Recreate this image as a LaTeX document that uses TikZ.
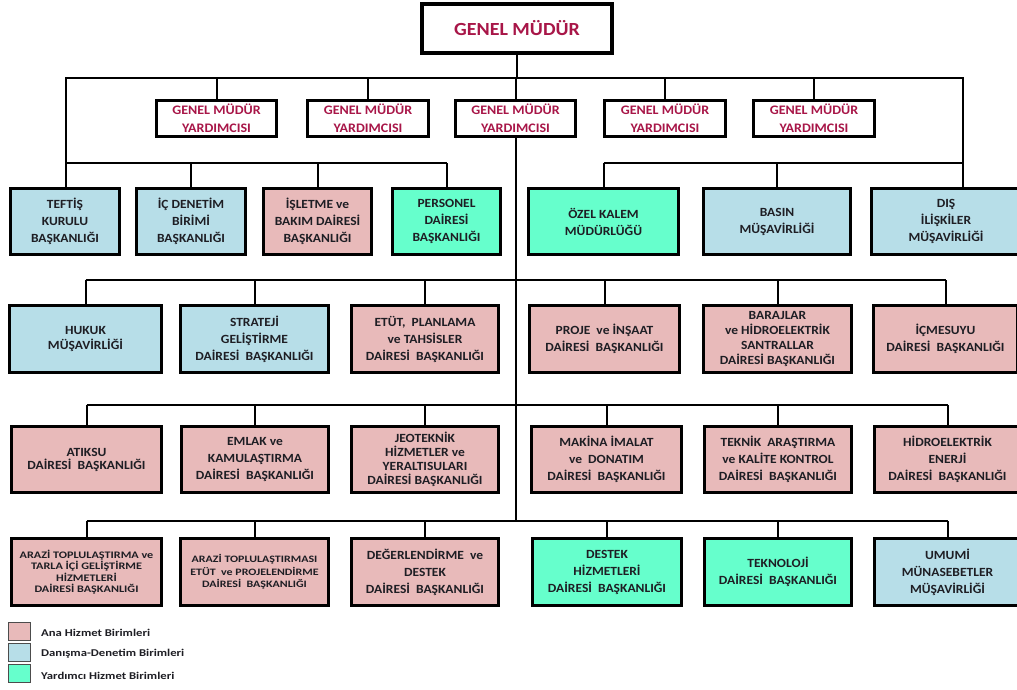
\documentclass[tikz,border=0pt]{standalone}
\usepackage{fontspec}
\setmainfont{Carlito}[FakeStretch=1.08]
\newfontfamily\widefont{Carlito}[FakeStretch=1.22]
\definecolor{anapink}{RGB}{232,186,186}
\definecolor{danblue}{RGB}{183,222,232}
\definecolor{yargreen}{RGB}{102,255,204}
\definecolor{gmred}{RGB}{168,22,72}
\definecolor{boxtext}{RGB}{30,30,36}
\begin{document}
\begin{tikzpicture}[x=1pt,y=-1pt,
  unit/.style={draw=black, line width=3pt, inner sep=0pt, align=center,
    text=boxtext, font=\bfseries\fontsize{12.5}{17}\selectfont},
  ana/.style={unit, fill=anapink},
  dan/.style={unit, fill=danblue},
  yar/.style={unit, fill=yargreen},
  lsp/.style={font=\bfseries\fontsize{12.5}{#1}\selectfont},
  wide/.style={font=\widefont\bfseries\fontsize{#1}{11.5}\selectfont},
  gmybox/.style={draw=black, line width=3pt, fill=white, inner sep=0pt, align=center,
    text=gmred, font=\bfseries\fontsize{13}{18}\selectfont,
    minimum height=36pt},
  conn/.style={draw=black, line width=2pt},
  legsq/.style={draw=black!70, line width=1pt, minimum width=22pt, minimum height=18pt, inner sep=0pt},
  legtext/.style={anchor=west, inner sep=0pt, text=boxtext, font=\widefont\bfseries\fontsize{10.4}{12}\selectfont}
]
\useasboundingbox (0,0) rectangle (1017,689);
\fill[white] (0,0) rectangle (1017,689);

% top
\node[draw=black, line width=4pt, fill=white, minimum width=190pt, minimum height=49pt,
  text=gmred, font=\bfseries\fontsize{18.5}{22}\selectfont] (gm) at (517,28.5) {GENEL MÜDÜR};

\node[gmybox, minimum width=120pt] (g1) at (216.5,118.5) {GENEL MÜDÜR\\YARDIMCISI};
\node[gmybox, minimum width=121pt] (g2) at (368,118.5) {GENEL MÜDÜR\\YARDIMCISI};
\node[gmybox, minimum width=120pt] (g3) at (515.5,118.5) {GENEL MÜDÜR\\YARDIMCISI};
\node[gmybox, minimum width=121pt] (g4) at (665,118.5) {GENEL MÜDÜR\\YARDIMCISI};
\node[gmybox, minimum width=121pt] (g5) at (814,118.5) {GENEL MÜDÜR\\YARDIMCISI};

% row 1
\node[dan, minimum width=109pt, minimum height=66pt] (teftis) at (65,221.5) {TEFTİŞ\\KURULU\\BAŞKANLIĞI};
\node[dan, minimum width=109pt, minimum height=66pt] (icden) at (191,221.5) {İÇ DENETİM\\BİRİMİ\\BAŞKANLIĞI};
\node[ana, minimum width=108pt, minimum height=66pt] (isletme) at (317.5,221.5) {İŞLETME ve\\BAKIM DAİRESİ\\BAŞKANLIĞI};
\node[yar, minimum width=108pt, minimum height=66pt] (personel) at (446.5,221.5) {PERSONEL\\DAİRESİ\\BAŞKANLIĞI};
\node[yar, minimum width=150pt, minimum height=66pt] (ozel) at (603.5,221.5) {ÖZEL KALEM\\MÜDÜRLÜĞÜ};
\node[dan, minimum width=147pt, minimum height=66pt] (basin) at (777,221.5) {BASIN\\MÜŞAVİRLİĞİ};
\node[dan, minimum width=149pt, minimum height=66pt] (dis) at (946,221.5) {DIŞ\\İLİŞKİLER\\MÜŞAVİRLİĞİ};

% row 2
\node[dan, lsp=15, minimum width=152pt, minimum height=67pt] (hukuk) at (85.5,339) {HUKUK\\MÜŞAVİRLİĞİ};
\node[dan, minimum width=148pt, minimum height=67pt] (strateji) at (254.5,339) {STRATEJİ\\GELİŞTİRME\\DAİRESİ\ \ BAŞKANLIĞI};
\node[ana, minimum width=147pt, minimum height=67pt] (etut) at (425,339) {ETÜT,\ \ PLANLAMA\\ve TAHSİSLER\\DAİRESİ\ \ BAŞKANLIĞI};
\node[ana, minimum width=150pt, minimum height=67pt] (proje) at (604.5,339) {PROJE\ \ ve İNŞAAT\\DAİRESİ\ \ BAŞKANLIĞI};
\node[ana, lsp=15, minimum width=148pt, minimum height=67pt] (barajlar) at (777.5,339) {BARAJLAR\\ve HİDROELEKTRİK\\SANTRALLAR\\DAİRESİ BAŞKANLIĞI};
\node[ana, minimum width=144pt, minimum height=67pt] (icmesuyu) at (945.5,339) {İÇMESUYU\\DAİRESİ\ \ BAŞKANLIĞI};

% row 3
\node[ana, lsp=13, minimum width=150pt, minimum height=66pt] (atiksu) at (86.5,459.5) {ATIKSU\\DAİRESİ\ \ BAŞKANLIĞI};
\node[ana, minimum width=147pt, minimum height=66pt] (emlak) at (255,459.5) {EMLAK ve\\KAMULAŞTIRMA\\DAİRESİ\ \ BAŞKANLIĞI};
\node[ana, lsp=14, minimum width=147pt, minimum height=66pt] (jeo) at (425,459.5) {JEOTEKNİK\\HİZMETLER ve\\YERALTISULARI\\DAİRESİ BAŞKANLIĞI};
\node[ana, minimum width=150pt, minimum height=66pt] (makina) at (606.5,459.5) {MAKİNA İMALAT\\ve\ \ DONATIM\\DAİRESİ\ \ BAŞKANLIĞI};
\node[ana, minimum width=147pt, minimum height=66pt] (teknik) at (778,459.5) {TEKNİK\ \ ARAŞTIRMA\\ve KALİTE KONTROL\\DAİRESİ\ \ BAŞKANLIĞI};
\node[ana, minimum width=146pt, minimum height=66pt] (hidro) at (947.5,459.5) {HİDROELEKTRİK\\ENERJİ\\DAİRESİ\ \ BAŞKANLIĞI};

% row 4
\node[ana, wide=10, minimum width=150pt, minimum height=67pt] (arazi1) at (86.5,572) {ARAZİ TOPLULAŞTIRMA ve\\TARLA İÇİ GELİŞTİRME\\HİZMETLERİ\\DAİRESİ BAŞKANLIĞI};
\node[ana, font=\widefont\bfseries\fontsize{9.8}{12.3}\selectfont, minimum width=148pt, minimum height=67pt] (arazi2) at (254.5,572) {ARAZİ TOPLULAŞTIRMASI\\ETÜT\ \ ve PROJELENDİRME\\DAİRESİ\ \ BAŞKANLIĞI};
\node[ana, minimum width=147pt, minimum height=67pt] (deger) at (425,572) {DEĞERLENDİRME\ \ ve\\DESTEK\\DAİRESİ\ \ BAŞKANLIĞI};
\node[yar, minimum width=149pt, minimum height=67pt] (destek) at (607,572) {DESTEK\\HİZMETLERİ\\DAİRESİ\ \ BAŞKANLIĞI};
\node[yar, minimum width=147pt, minimum height=67pt] (teknoloji) at (778,572) {TEKNOLOJİ\\DAİRESİ\ \ BAŞKANLIĞI};
\node[dan, minimum width=146pt, minimum height=67pt] (umumi) at (947.5,572) {UMUMİ\\MÜNASEBETLER\\MÜŞAVİRLİĞİ};

% bar coordinates
\coordinate (tl) at (66,78);
\coordinate (tr) at (963,78);
\coordinate (b1) at (0,163);
\coordinate (b2) at (0,280);
\coordinate (b3) at (0,405);
\coordinate (b4) at (0,521);

% connectors top
\draw[conn] (gm.south) -- (gm.south |- tl);
\draw[conn] (teftis.north -| tl) -- (tl) -- (tr) -- (dis.north -| tr);
\foreach \g in {g1,g2,g3,g4,g5} {\draw[conn] (\g.north) -- (\g.north |- tl);}

% row 1 bars
\draw[conn] (tl |- b1) -- (personel.north |- b1);
\foreach \n in {icden,isletme,personel} {\draw[conn] (\n.north) -- (\n.north |- b1);}
\draw[conn] (ozel.north |- b1) -- (tr |- b1);
\foreach \n in {ozel,basin} {\draw[conn] (\n.north) -- (\n.north |- b1);}

% trunk
\draw[conn] (g3.south) -- (g3.south |- b4);

% row 2-4 bars
\draw[conn] (hukuk.north |- b2) -- (icmesuyu.north |- b2);
\foreach \n in {hukuk,strateji,etut,proje,barajlar,icmesuyu} {\draw[conn] (\n.north) -- (\n.north |- b2);}
\draw[conn] (atiksu.north |- b3) -- (hidro.north |- b3);
\foreach \n in {atiksu,emlak,jeo,makina,teknik,hidro} {\draw[conn] (\n.north) -- (\n.north |- b3);}
\draw[conn] (arazi1.north |- b4) -- (umumi.north |- b4);
\foreach \n in {arazi1,arazi2,deger,destek,teknoloji,umumi} {\draw[conn] (\n.north) -- (\n.north |- b4);}

% legend
\node[legsq, fill=anapink] (l1) at (19,631.5) {};
\node[legsq, fill=danblue] (l2) at (19,652) {};
\node[legsq, fill=yargreen] (l3) at (19,673) {};
\node[legtext] (t1) at (41,633) {Ana Hizmet Birimleri};
\node[legtext] (t2) at (41,654) {Danışma-Denetim Birimleri};
\node[legtext] (t3) at (41,676) {Yardımcı Hizmet Birimleri};
\end{tikzpicture}
\end{document}
